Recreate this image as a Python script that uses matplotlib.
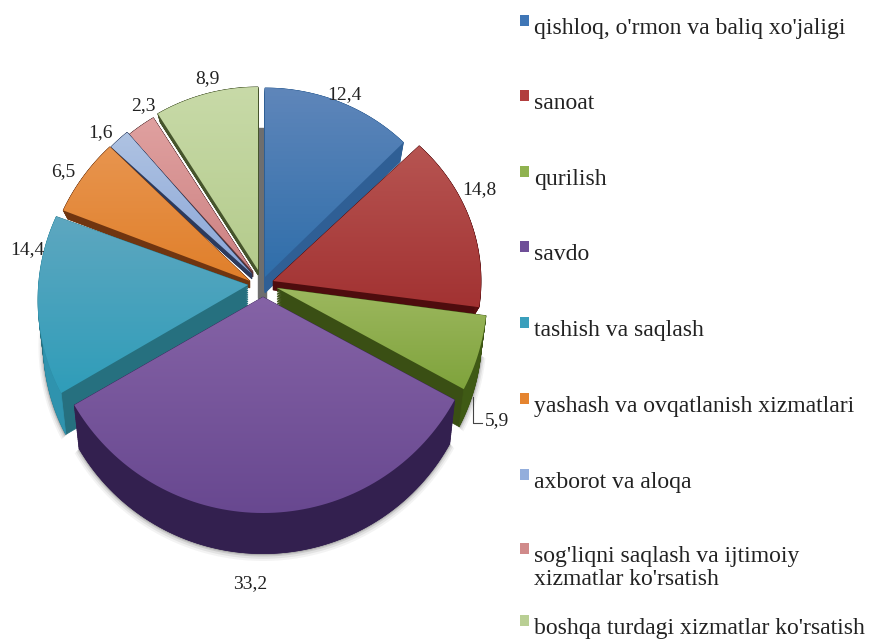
import matplotlib
matplotlib.use("Agg")
import matplotlib.pyplot as plt
import numpy as np
from matplotlib.colors import LinearSegmentedColormap
from matplotlib.patches import Polygon, Rectangle

plt.rcParams['font.family'] = ['Liberation Serif', 'DejaVu Serif']

categories = ["qishloq, o'rmon va baliq xo'jaligi", "sanoat", "qurilish", "savdo",
              "tashish va saqlash", "yashash va ovqatlanish xizmatlari", "axborot va aloqa",
              "sog'liqni saqlash va ijtimoiy\nxizmatlar ko'rsatish",
              "boshqa turdagi xizmatlar ko'rsatish"]
values = [12.4, 14.8, 5.9, 33.2, 14.4, 6.5, 1.6, 2.3, 8.9]

# look of each slice, same order as values
apex = [(265, 277), (273, 281), (277, 288), (263, 297), (248, 285), (250, 281), (252, 274), (253, 272), (258, 270)]
arc_centre = [(265, 277), (273, 281), (275, 295), (263, 297), (250, 300), (250, 300), (255, 290), (255, 290), (258, 290)]
radii = [(197, 189), (208, 190), (212, 207), (218, 216), (212, 205), (207, 208), (203, 203), (200, 200), (202, 203)]
# perspective shift of the slice edges, degrees
nudge = [(0, 0), (0, 0), (-2.2, -2.1), (-0.7, 1.3), (4.3, 3.5), (5, 3.5), (0.9, 1.3), (1.3, 1.5), (2.3, 0)]
depth = [16, 9, 40, 46, 44, 7, 5, 5, 5]
top_col = ['#5F86BA', '#B75552', '#9DB85F', '#8563A6', '#5EA7C0', '#E8954F', '#AFC3E2', '#E0A1A0', '#C8DAA8']
low_col = ['#2F6EAA', '#A23232', '#7FA33C', '#684890', '#2F9DB9', '#E07F2A', '#8AA6D8', '#CC8182', '#B4CB8C']
edge_col = ['#2F5F95', '#4E0C0E', '#3A4F14', '#3A2558', '#26707F', '#703510', '#2C3A5C', '#5A3436', '#46552C']
arc_col = ['#2F5F95', '#5A0F10', '#3F5A15', '#33204F', '#2F93AE', '#703510', '#2C3A5C', '#5A3436', '#46552C']
legend_col = ['#3F76B6', '#B23E3E', '#8FB24F', '#6F4F98', '#3A9FBC', '#E5842F', '#93AEDC', '#D08A8A', '#B9CF94']

# back slices first, the purple one last
draw_order = [8, 7, 6, 5, 0, 1, 4, 2, 3]

label_pos = [(344, 95), (479, 190), (497, 421), (250, 584), (27, 250), (63, 172), (100, 133), (143, 106), (207, 79)]
legend_y = [21, 96, 172, 247, 323, 399, 475, 549, 621]

fig = plt.figure(figsize=(8.82, 6.39), dpi=100)
ax = fig.add_axes([0, 0, 1, 1])


def arc_points(i, start, end):
    t = np.radians(np.linspace(start, end, 80))
    x = arc_centre[i][0] + radii[i][0] * np.sin(t)
    y = arc_centre[i][1] - radii[i][1] * np.cos(t)
    return np.column_stack([x, y])


def lower(pts, i, scale=0.975):
    c = np.array(apex[i], dtype=float)
    return c + (pts - c) * scale + np.array([0, depth[i]])


# slice angles come from the values
total = sum(values)
bounds = np.cumsum([0] + values) / total * 360

# gray bit behind the slices at the top
ax.add_patch(Rectangle((258, 128), 8, 170, color='#6E6E6E', zorder=1))

z = 2
for i in draw_order:
    a = arc_points(i, bounds[i] + nudge[i][0], bounds[i + 1] + nudge[i][1])
    full = np.vstack([[apex[i]], a])
    low = lower(full, i)

    # soft shadow under the slices with a tall side
    if depth[i] > 20:
        for grow, alpha in [(5, 0.05), (3.5, 0.08), (2, 0.12), (1, 0.18)]:
            c = np.array(apex[i], dtype=float)
            sh = c + (a - c) * (0.975 + grow / 220) + np.array([0, depth[i] + grow / 2])
            ax.add_patch(Polygon(np.vstack([sh, [apex[i]]]), closed=True, fc='#222222', ec='none', alpha=alpha, zorder=z))
        z += 1

    # radial walls
    for k in np.linspace(0, 1, 25):
        ax.add_patch(Polygon(full * (1 - k) + low * k, closed=True, fc=edge_col[i], ec=edge_col[i], lw=0.5, zorder=z))
    z += 1

    # outer wall
    wall = np.vstack([a, lower(a, i)[::-1]])
    ax.add_patch(Polygon(wall, closed=True, fc=arc_col[i], ec=arc_col[i], lw=0.5, zorder=z))
    z += 1

    # top face with vertical gradient
    face = Polygon(full, closed=True, fc='none', ec='none', zorder=z, transform=ax.transData)
    ax.add_patch(face)
    cmap = LinearSegmentedColormap.from_list('s', [top_col[i], low_col[i]])
    grad = np.linspace(0, 1, 128).reshape(-1, 1)
    x0, x1 = full[:, 0].min() - 1, full[:, 0].max() + 1
    y0, y1 = full[:, 1].min() - 1, full[:, 1].max() + 1
    im = ax.imshow(grad, cmap=cmap, extent=(x0, x1, y1, y0), aspect='auto', zorder=z, interpolation='bilinear')
    im.set_clip_path(face)
    z += 1

ax.set_xlim(0, 882)
ax.set_ylim(639, 0)
ax.axis('off')

# value labels
for v, (x, y) in zip(values, label_pos):
    ax.text(x, y, f"{v}".replace('.', ','), fontsize=14, color='#222222', ha='center', va='center', zorder=z + 1)

# leader for the 5,9 label
ax.plot([473, 473, 482], [397, 423, 423], color='#444444', lw=0.8, zorder=z + 1)

# legend
for cat, col, y in zip(categories, legend_col, legend_y):
    ax.add_patch(Rectangle((520, y - 6), 9, 11, fc=col, ec='none', zorder=z + 1))
    ax.text(534, y - 3, cat, fontsize=17, color='#222222', ha='left', va='top',
            linespacing=1.1, zorder=z + 1)

fig.savefig('out.png', dpi=100)
